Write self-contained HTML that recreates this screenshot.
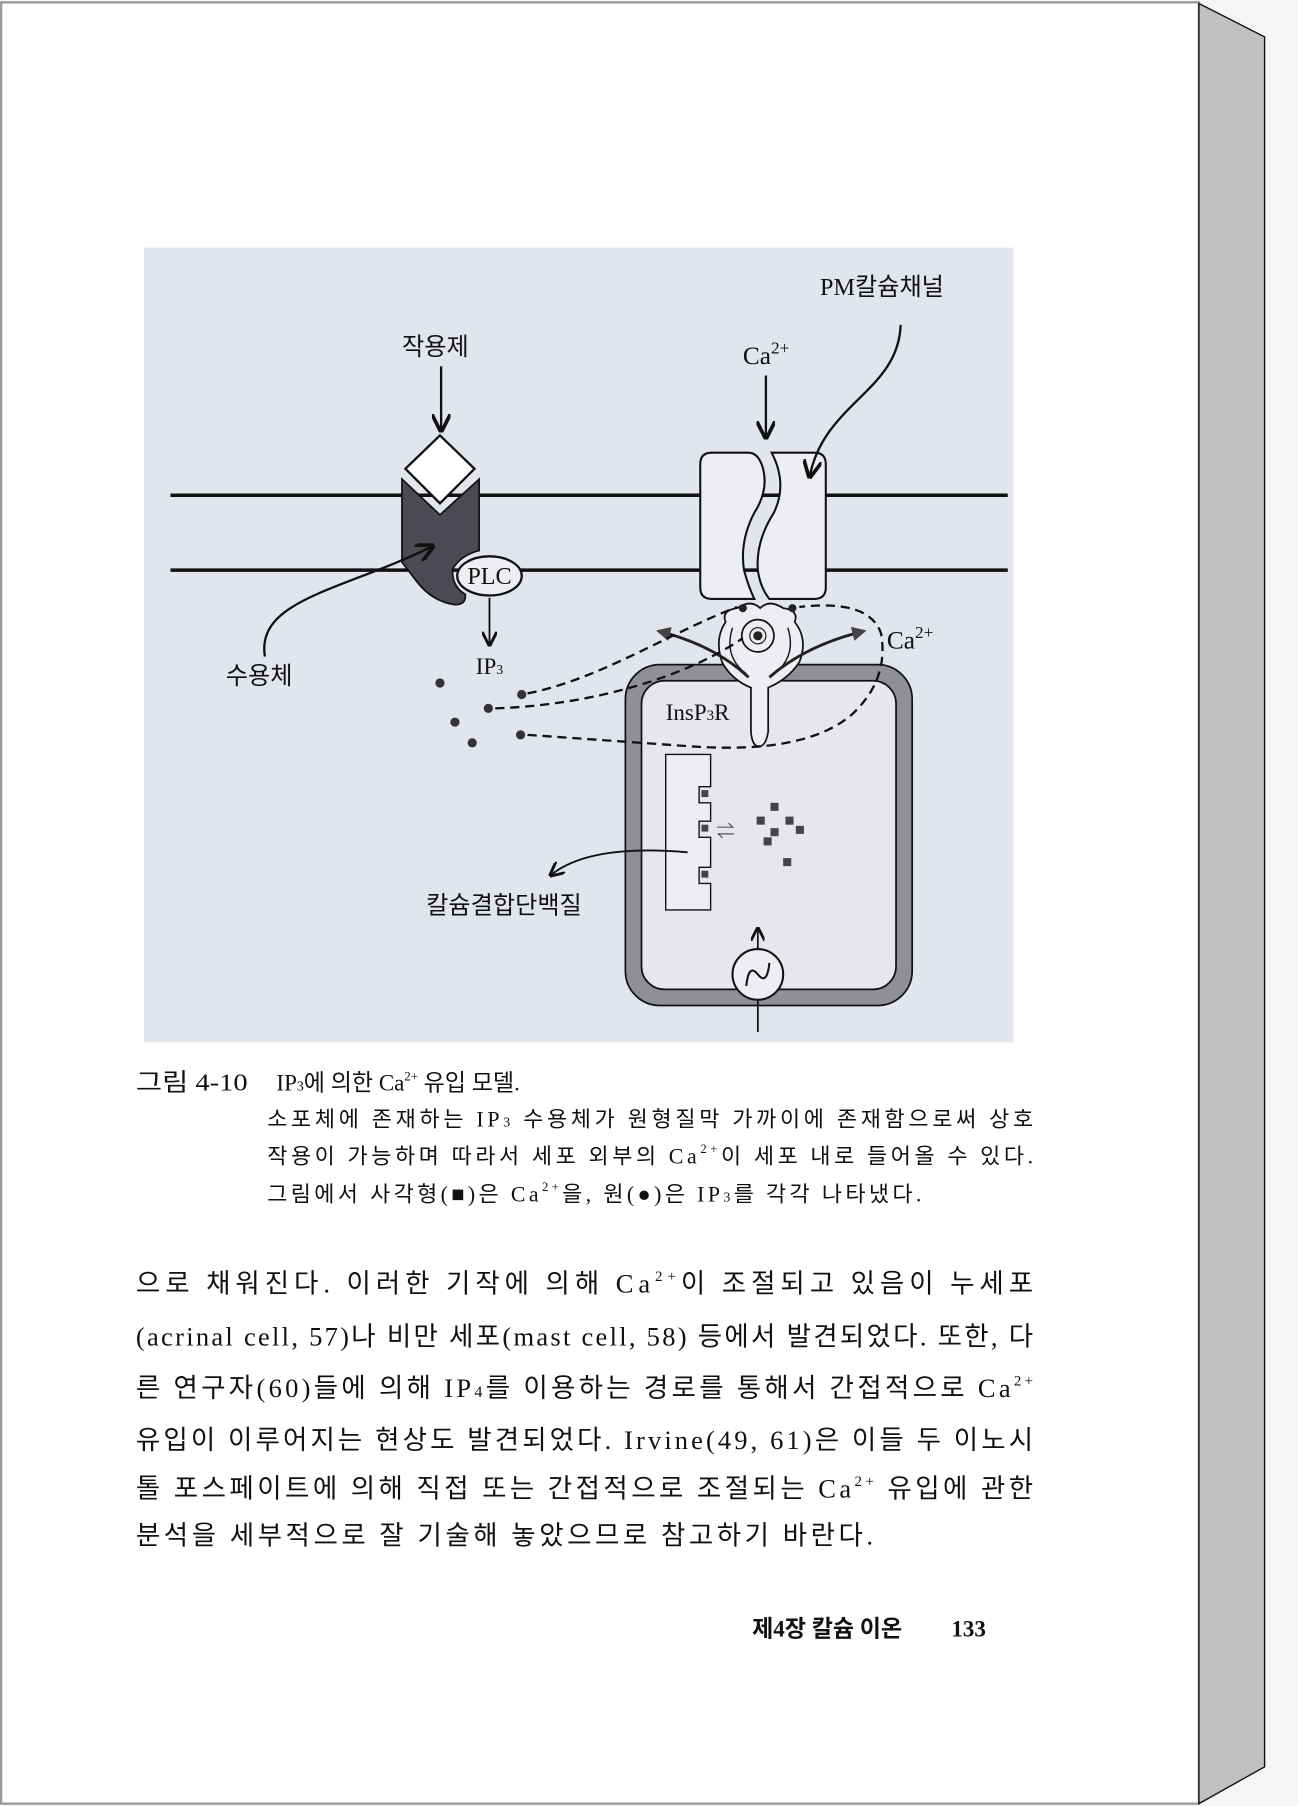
<!DOCTYPE html>
<html><head><meta charset="utf-8"><style>
html,body{margin:0;padding:0;background:#f5f5f5;}
svg{display:block;}
text{font-family:"Liberation Serif","Noto Serif CJK SC","Noto Sans CJK KR",serif;fill:#111;}
.k{font-family:"Liberation Serif","Noto Sans CJK KR","NanumGothic",sans-serif;}
</style></head><body>
<svg width="1298" height="1806" viewBox="0 0 1127 1568" xmlns="http://www.w3.org/2000/svg">
<defs>
<marker id="ah" viewBox="0 0 10 10" refX="9" refY="5" markerWidth="8" markerHeight="8" orient="auto"><path d="M0,0 L10,5 L0,10" fill="none" stroke="#111" stroke-width="2"/></marker>
<marker id="tri" viewBox="0 0 10 10" refX="8" refY="5" markerWidth="5" markerHeight="5" orient="auto"><path d="M0,0 L10,5 L0,10 Z" fill="#444"/></marker>
</defs>
<rect x="0" y="0" width="1127" height="1568" fill="#f5f5f5"/>
<rect x="1" y="2" width="1040" height="1564" fill="#fff" stroke="#9a9a9a" stroke-width="2"/>
<polygon points="1041,3 1098,32 1098,1534 1041,1566" fill="#c0c0c0" stroke="#111" stroke-width="1.2"/>

<rect x="125" y="215" width="755" height="690" fill="#e3e5ec"/>
<line x1="148" y1="430" x2="875" y2="430" stroke="#111" stroke-width="3"/>
<line x1="148" y1="495" x2="875" y2="495" stroke="#111" stroke-width="3"/>

<path d="M349,416 L382,447 L416,416 L416,478 Q400,482 393,494 Q392,509 404,516 Q405,525 395,525 Q375,522 362,505 L349,488 Z" fill="#4a4a52" stroke="#111" stroke-width="1.5"/>
<polygon points="382,378 412,407 382,437 352,407" fill="#fff" stroke="#111" stroke-width="2"/>
<ellipse cx="425" cy="500" rx="28" ry="17" fill="#eceef2" stroke="#111" stroke-width="2"/>
<text x="425" y="507" font-size="21" text-anchor="middle">PLC</text>
<line x1="425" y1="519" x2="425" y2="560" stroke="#111" stroke-width="1.6" marker-end="url(#ah)"/>
<text x="425" y="585" font-size="20" text-anchor="middle">IP<tspan font-size="12">3</tspan></text>

<text x="378" y="308" font-size="21" text-anchor="middle" class="k">작용제</text>
<line x1="383" y1="318" x2="383" y2="374" stroke="#111" stroke-width="2" marker-end="url(#ah)"/>
<text x="225" y="594" font-size="21" text-anchor="middle" class="k">수용체</text>
<path d="M230,570 C222,520 300,512 376,474" fill="none" stroke="#111" stroke-width="2" marker-end="url(#ah)"/>

<g fill="#333">
<circle cx="382" cy="593" r="4"/><circle cx="424" cy="615" r="4"/><circle cx="395" cy="627" r="4"/>
<circle cx="453" cy="603" r="4"/><circle cx="410" cy="645" r="4"/><circle cx="452" cy="638" r="4"/>
</g>

<rect x="543" y="577" width="249" height="296" rx="30" fill="#8e9096" stroke="#111" stroke-width="1.5"/>
<rect x="557" y="591" width="221" height="268" rx="20" fill="#e5e7ed" stroke="#111" stroke-width="1.5"/>

<path d="M618,393 L650,393 Q658,393 662,405 Q668,425 655,445 Q642,470 646,495 Q650,510 655,520 L618,520 Q608,520 608,510 L608,403 Q608,393 618,393 Z" fill="#eceef2" stroke="#111" stroke-width="1.8"/>
<path d="M670,393 L707,393 Q717,393 717,403 L717,510 Q717,520 707,520 L668,520 Q660,510 658,495 Q656,470 672,445 Q684,420 670,393 Z" fill="#eceef2" stroke="#111" stroke-width="1.8"/>
<text x="645" y="316" font-size="22">Ca<tspan font-size="15" dy="-9">2+</tspan></text>
<line x1="665" y1="326" x2="665" y2="380" stroke="#111" stroke-width="2" marker-end="url(#ah)"/>
<text x="712" y="256" font-size="21" class="k">PM칼슘채널</text>
<path d="M782,282 C780,340 715,350 703,414" fill="none" stroke="#111" stroke-width="2" marker-end="url(#ah)"/>

<path d="M640,528 Q652,520 660,528 Q668,520 680,528 Q694,530 690,540 Q702,555 694,575 Q684,590 667,597 L667,635 Q665,648 659,648 Q653,648 652,635 L652,597 Q635,590 627,575 Q620,555 630,540 Q626,530 640,528 Z" fill="#eceef2" stroke="#111" stroke-width="1.5"/>
<path d="M636,545 Q628,570 648,585 M684,545 Q692,570 672,585" fill="none" stroke="#111" stroke-width="1.2"/>
<circle cx="658" cy="552" r="14" fill="#eceef2" stroke="#111" stroke-width="1.5"/>
<circle cx="658" cy="552" r="7" fill="none" stroke="#111" stroke-width="1"/>
<circle cx="658" cy="552" r="4" fill="#222"/>
<circle cx="645" cy="528" r="3.5" fill="#222"/><circle cx="688" cy="528" r="3.5" fill="#222"/>
<path d="M650,588 Q620,560 572,548" fill="none" stroke="#222" stroke-width="2.5" marker-end="url(#tri)"/>
<path d="M668,588 Q700,560 750,548" fill="none" stroke="#222" stroke-width="2.5" marker-end="url(#tri)"/>
<text x="770" y="563" font-size="22">Ca<tspan font-size="15" dy="-9">2+</tspan></text>

<g fill="none" stroke="#111" stroke-width="2" stroke-dasharray="8,5">
<path d="M458,602 C520,590 580,550 640,527"/>
<path d="M430,615 C520,612 600,585 645,554"/>
<path d="M458,638 L600,648 Q700,655 740,620 Q772,590 765,550 Q755,520 694,527"/>
</g>

<text x="578" y="625" font-size="20">InsP<tspan font-size="13">3</tspan>R</text>

<path d="M578,655 L617,655 L617,683 L607,683 L607,697 L617,697 L617,713 L607,713 L607,727 L617,727 L617,753 L607,753 L607,767 L617,767 L617,790 L578,790 Z" fill="#eceef2" stroke="#111" stroke-width="1.2"/>
<g fill="#444">
<rect x="609" y="686" width="6" height="6"/><rect x="609" y="716" width="6" height="6"/><rect x="609" y="756" width="6" height="6"/>
<rect x="669" y="697" width="7" height="7"/><rect x="657" y="709" width="7" height="7"/><rect x="682" y="709" width="7" height="7"/>
<rect x="669" y="719" width="7" height="7"/><rect x="691" y="717" width="7" height="7"/><rect x="663" y="727" width="7" height="7"/><rect x="680" y="745" width="7" height="7"/>
</g>
<text x="622" y="727" font-size="16">⇌</text>
<path d="M597,740 C540,735 500,742 478,760" fill="none" stroke="#111" stroke-width="1.6" marker-end="url(#ah)"/>
<text x="370" y="793" font-size="21" class="k">칼슘결합단백질</text>

<line x1="658" y1="868" x2="658" y2="896" stroke="#111" stroke-width="1.5"/>
<line x1="658" y1="824" x2="658" y2="806" stroke="#111" stroke-width="1.5" marker-end="url(#ah)"/>
<circle cx="658" cy="846" r="22" fill="#eceef2" stroke="#111" stroke-width="1.8"/>
<path d="M648,856 Q650,836 658,846 Q666,856 668,836" fill="none" stroke="#111" stroke-width="1.8"/>

<g class="k">
<text x="118" y="947" font-size="21" textLength="97" lengthAdjust="spacingAndGlyphs" class="k">그림 4-10</text>
<text x="240" y="947" font-size="20" class="k">IP<tspan font-size="12">3</tspan>에 의한 Ca<tspan font-size="11" dy="-9">2+</tspan><tspan dy="9"> 유입 모델.</tspan></text>
<text x="232" y="978" font-size="19" textLength="665" lengthAdjust="spacing" class="k">소포체에 존재하는 IP<tspan font-size="12">3</tspan> 수용체가 원형질막 가까이에 존재함으로써 상호</text>
<text x="232" y="1010" font-size="19" textLength="665" lengthAdjust="spacing" class="k">작용이 가능하며 따라서 세포 외부의 Ca<tspan font-size="11" dy="-9">2+</tspan><tspan dy="9">이 세포 내로 들어올 수 있다.</tspan></text>
<text x="232" y="1043" font-size="19" textLength="568" lengthAdjust="spacing" class="k">그림에서 사각형(■)은 Ca<tspan font-size="11" dy="-9">2+</tspan><tspan dy="9">을, 원(●)은 IP</tspan><tspan font-size="12">3</tspan>를 각각 나타냈다.</text>

<text x="118" y="1122" font-size="23" textLength="779" lengthAdjust="spacing" class="k">으로 채워진다. 이러한 기작에 의해 Ca<tspan font-size="13" dy="-10">2+</tspan><tspan dy="10">이 조절되고 있음이 누세포</tspan></text>
<text x="118" y="1168" font-size="23" textLength="779" lengthAdjust="spacing" class="k">(acrinal cell, 57)나 비만 세포(mast cell, 58) 등에서 발견되었다. 또한, 다</text>
<text x="118" y="1213" font-size="23" textLength="779" lengthAdjust="spacing" class="k">른 연구자(60)들에 의해 IP<tspan font-size="14">4</tspan>를 이용하는 경로를 통해서 간접적으로 Ca<tspan font-size="13" dy="-10">2+</tspan></text>
<text x="118" y="1258" font-size="23" textLength="779" lengthAdjust="spacing" class="k">유입이 이루어지는 현상도 발견되었다. Irvine(49, 61)은 이들 두 이노시</text>
<text x="118" y="1300" font-size="23" textLength="779" lengthAdjust="spacing" class="k">톨 포스페이트에 의해 직접 또는 간접적으로 조절되는 Ca<tspan font-size="13" dy="-10">2+</tspan><tspan dy="10"> 유입에 관한</tspan></text>
<text x="118" y="1341" font-size="23" textLength="640" lengthAdjust="spacing" class="k">분석을 세부적으로 잘 기술해 놓았으므로 참고하기 바란다.</text>

<text x="653" y="1421" font-size="20" font-weight="bold" class="k">제4장  칼슘 이온</text>
<text x="826" y="1421" font-size="20" font-weight="bold">133</text>
</g>
</svg>
</body></html>
